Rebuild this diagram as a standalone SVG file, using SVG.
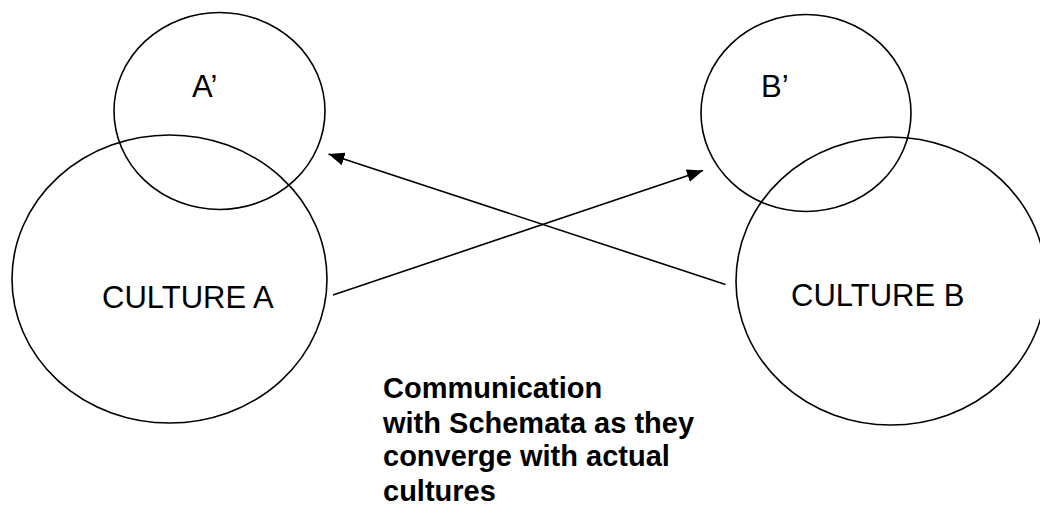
<svg xmlns="http://www.w3.org/2000/svg" width="1040" height="506" viewBox="0 0 1040 506">
<style>
.c{fill:none;stroke:#000;stroke-width:1.6}
.l{fill:none;stroke:#000;stroke-width:1.6}
.t{font-family:"Liberation Sans",Arial,sans-serif;font-size:31px;fill:#000}
.b{font-family:"Liberation Sans",Arial,sans-serif;font-size:29px;font-weight:bold;fill:#000}
</style>
<defs>
<marker id="ah" markerUnits="userSpaceOnUse" markerWidth="16" markerHeight="13" refX="16" refY="6.5" orient="auto">
<path d="M0,0 L16,6.5 L0,13 Z" fill="#000"/>
</marker>
</defs>
<rect width="1040" height="506" fill="#fff"/>
<g id="culture-a-schema">
<ellipse class="c" cx="219.5" cy="111" rx="105.5" ry="98.5"/>
<text class="t" x="192" y="97">A’</text>
</g>
<g id="culture-a">
<ellipse class="c" cx="169.5" cy="279" rx="157.5" ry="144"/>
<text class="t" x="102" y="307.5">CULTURE A</text>
</g>
<g id="culture-b-schema">
<ellipse class="c" cx="806" cy="113" rx="105" ry="98.5"/>
<text class="t" x="761" y="97">B’</text>
</g>
<g id="culture-b">
<ellipse class="c" cx="891" cy="281" rx="155" ry="144"/>
<text class="t" x="791" y="306">CULTURE B</text>
</g>
<g id="connectors">
<line class="l" x1="333" y1="295" x2="703" y2="170.5" marker-end="url(#ah)"/>
<line class="l" x1="725.5" y1="284.5" x2="328.5" y2="154" marker-end="url(#ah)"/>
</g>
<g id="caption">
<text class="b" x="383" y="398">Communication</text>
<text class="b" x="383" y="433">with Schemata as they</text>
<text class="b" x="383" y="466">converge with actual</text>
<text class="b" x="383" y="501">cultures</text>
</g>
</svg>
